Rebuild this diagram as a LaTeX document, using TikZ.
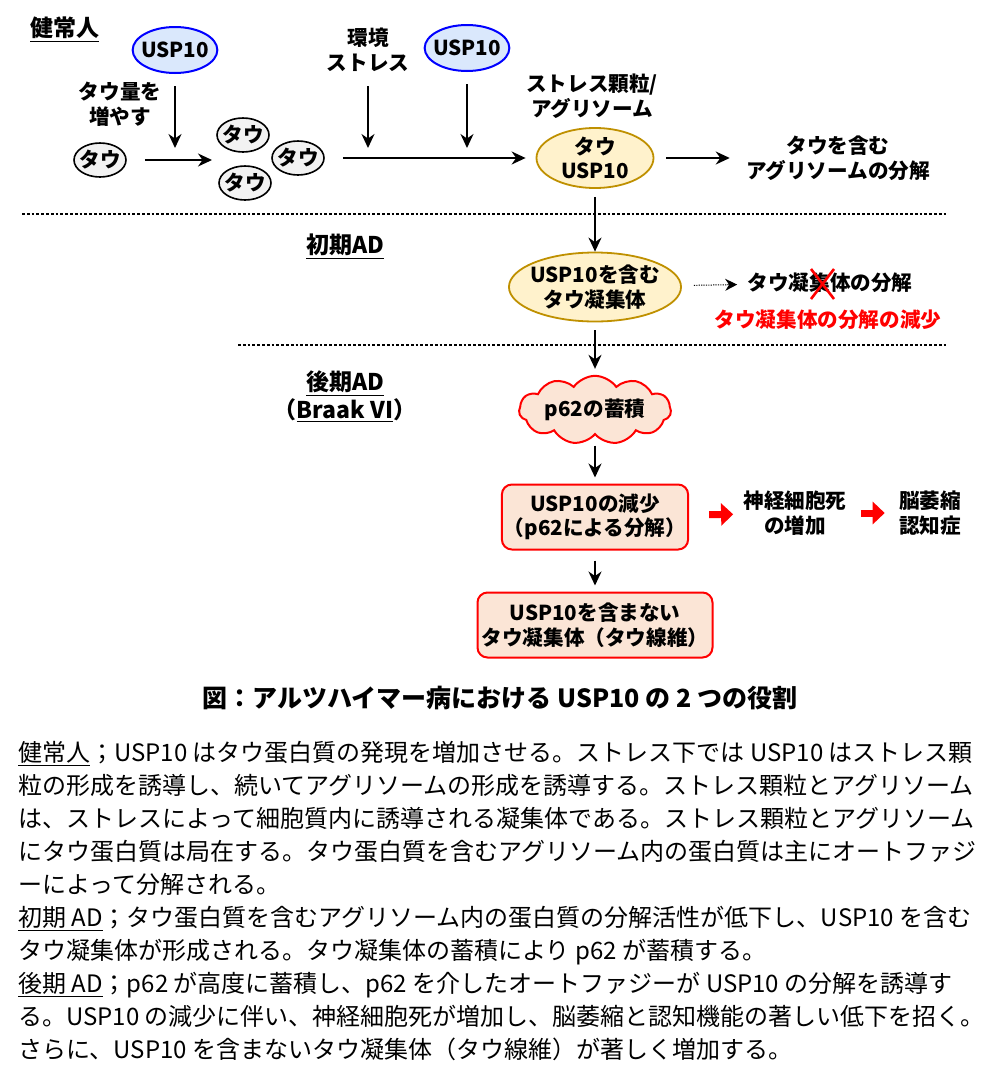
\documentclass[tikz,border=0pt]{standalone}
\usepackage{fontspec}
\setmainfont{Noto Sans CJK JP}
\usetikzlibrary{arrows.meta,shapes.geometric,shapes.symbols}

\definecolor{uspfill}{HTML}{DAE8FC}
\definecolor{uspdraw}{HTML}{0000FF}
\definecolor{taufill}{HTML}{F2F2F2}
\definecolor{granfill}{HTML}{FFF2CC}
\definecolor{grandraw}{HTML}{BF9000}
\definecolor{pinkfill}{HTML}{FBE5D6}
\definecolor{redline}{HTML}{FF0000}

\begin{document}
\begin{tikzpicture}[x=0.5pt,y=-0.5pt]
\tikzset{
  nodefont/.style={font=\bfseries\fontsize{10.3}{12.3}\selectfont},
  headtext/.style={align=center,inner sep=1pt,font=\bfseries\fontsize{11.5}{14}\selectfont},
  plaintext/.style={nodefont,align=center,inner sep=1pt},
  uspnode/.style={ellipse,draw=uspdraw,fill=uspfill,line width=1pt,minimum width=38.5pt,minimum height=23pt,inner sep=-2pt,nodefont},
  taunode/.style={ellipse,draw=black,fill=taufill,line width=0.8pt,minimum width=26pt,minimum height=17pt,inner sep=-2pt,nodefont},
  granule/.style={ellipse,draw=grandraw,fill=granfill,line width=0.9pt,inner sep=-2pt,align=center,nodefont},
  pinkcloud/.style={cloud,cloud puffs=11,cloud puff arc=110,aspect=2.4,draw=redline,fill=pinkfill,line width=1pt,minimum width=76pt,minimum height=32pt,inner sep=-3pt,nodefont},
  pinkbox/.style={rectangle,rounded corners=5pt,draw=redline,fill=pinkfill,line width=1pt,minimum height=32.5pt,inner xsep=1pt,align=center,nodefont},
  flow/.style={draw=black,line width=0.9pt,-{Stealth[length=7pt,width=6.5pt]}},
  dottedflow/.style={draw=black,line width=0.5pt,dash pattern=on 0.6pt off 0.6pt,-{Stealth[length=6pt,width=6pt]}},
  redflow/.style={draw=redline,line width=3.5pt,-{Triangle[length=6pt,width=11pt]}},
  sepline/.style={line width=1.4pt,dash pattern=on 1.4pt off 1pt},
  crossmark/.style={draw=redline,line width=1.3pt},
  bodyline/.style={anchor=base west,inner sep=0pt,font=\fontsize{12}{16.5}\selectfont}
}
\useasboundingbox (0,0) rectangle (1000,1082);

% healthy
\node[headtext] (hd_healthy) at (65,30) {\underline{健常人}};
\node[uspnode] (usp_a) at (175,50) {USP10};
\node[plaintext] (lb_more) at (120,104) {タウ量を\\増やす};
\node[taunode] (tau_one) at (100,160) {タウ};
\node[taunode] (tau_a) at (243,135) {タウ};
\node[taunode] (tau_b) at (298,158) {タウ};
\node[taunode] (tau_c) at (245,183) {タウ};
\node[plaintext] (lb_stress) at (368,50) {環境\\ストレス};
\node[uspnode] (usp_b) at (467,48) {USP10};
\node[plaintext] (lb_granule) at (592,96) {ストレス顆粒/\\アグリソーム};
\node[granule,minimum width=58.5pt,minimum height=30pt] (gran) at (595,158) {タウ\\USP10};
\node[plaintext] (lb_degrade) at (838,158) {タウを含む\\アグリソームの分解};
\coordinate (j_a) at (175,148);
\coordinate (j_b) at (368,148);
\coordinate (j_c) at (467,148);
\coordinate (j_t) at (212,160);
\draw[flow,shorten <=6pt] (usp_a) -- (j_a);
\draw[flow,shorten <=6pt] (lb_stress) -- (j_b);
\draw[flow,shorten <=6pt] (usp_b) -- (j_c);
\draw[flow,shorten <=9pt] (tau_one) -- (j_t);
\draw[flow,shorten <=9pt,shorten >=5pt] (tau_b) -- (gran);
\draw[flow,shorten <=6pt,shorten >=7pt] (gran) -- (lb_degrade);
\draw[sepline] (22,214) -- (948,214);

% early AD
\node[headtext] (hd_early) at (345,247) {\underline{初期AD}};
\node[granule,minimum width=82.5pt,minimum height=34.5pt] (agg) at (595,287) {USP10を含む\\タウ凝集体};
\node[plaintext] (lb_aggdeg) at (830,283) {タウ凝集体の分解};
\node[plaintext,text=redline] (lb_less) at (828,320) {タウ凝集体の分解の減少};
\draw[flow,shorten <=4pt] (gran) -- (agg);
\draw[dottedflow,shorten <=6pt,shorten >=4pt] (agg) -- (lb_aggdeg);
\draw[crossmark] (811,269) -- (834,299);
\draw[crossmark] (834,269) -- (811,299);
\draw[sepline] (238,345) -- (947,345);

% late AD
\node[headtext] (hd_late) at (345,397) {\underline{後期AD}\\（\underline{Braak VI}）};
\node[pinkcloud] (p62) at (595,410) {p62の蓄積};
\node[pinkbox,minimum width=88pt] (box_loss) at (595,517) {USP10の減少\\（p62による分解）};
\node[plaintext] (lb_death) at (795,513) {神経細胞死\\の増加};
\node[plaintext] (lb_atrophy) at (930,513) {脳萎縮\\認知症};
\node[pinkbox,minimum width=117.5pt] (box_fiber) at (595,625) {USP10を含まない\\タウ凝集体（タウ線維）};
\draw[flow,shorten <=4pt,shorten >=3pt] (agg) -- (p62);
\draw[flow,shorten <=5pt,shorten >=3pt] (p62) -- (box_loss);
\draw[flow,shorten <=5pt,shorten >=3pt] (box_loss) -- (box_fiber);
\draw[redflow,shorten <=10pt,shorten >=4pt] (box_loss) -- (lb_death);
\draw[redflow,shorten <=6pt,shorten >=6pt] (lb_death) -- (lb_atrophy);

% caption and text
\node[font=\bfseries\fontsize{12.5}{15}\selectfont,inner sep=0pt] (caption) at (500,698) {図：アルツハイマー病における USP10 の 2 つの役割};
\node[bodyline] (txt_1) at (18,761) {\underline{健常人}；USP10 はタウ蛋白質の発現を増加させる。ストレス下では USP10 はストレス顆};
\node[bodyline] (txt_2) at (18,794) {粒の形成を誘導し、続いてアグリソームの形成を誘導する。ストレス顆粒とアグリソーム};
\node[bodyline] (txt_3) at (18,827) {は、ストレスによって細胞質内に誘導される凝集体である。ストレス顆粒とアグリソーム};
\node[bodyline] (txt_4) at (18,860) {にタウ蛋白質は局在する。タウ蛋白質を含むアグリソーム内の蛋白質は主にオートファジ};
\node[bodyline] (txt_5) at (18,893) {ーによって分解される。};
\node[bodyline] (txt_6) at (18,926) {\underline{初期 AD}；タウ蛋白質を含むアグリソーム内の蛋白質の分解活性が低下し、USP10 を含む};
\node[bodyline] (txt_7) at (18,959) {タウ凝集体が形成される。タウ凝集体の蓄積により p62 が蓄積する。};
\node[bodyline] (txt_8) at (18,992) {\underline{後期 AD}；p62 が高度に蓄積し、p62 を介したオートファジーが USP10 の分解を誘導す};
\node[bodyline] (txt_9) at (18,1025) {る。USP10 の減少に伴い、神経細胞死が増加し、脳萎縮と認知機能の著しい低下を招く。};
\node[bodyline] (txt_10) at (18,1058) {さらに、USP10 を含まないタウ凝集体（タウ線維）が著しく増加する。};
\end{tikzpicture}
\end{document}
